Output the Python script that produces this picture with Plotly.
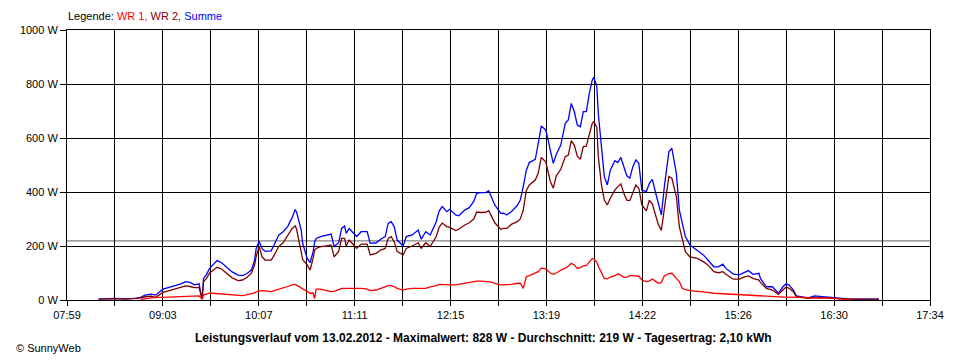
import plotly.graph_objects as go

# ---- data ----
times = [
    "08:20","08:25","08:31","08:38","08:45","08:48","08:51","08:55","08:58","09:03",
    "09:06","09:10","09:12","09:15","09:18","09:21","09:24","09:27","09:28","09:29",
    "09:30","09:32","09:34","09:36","09:39","09:42","09:45","09:49","09:53","09:56",
    "09:59","10:02","10:04","10:05","10:07","10:09","10:11","10:15","10:17","10:20",
    "10:23","10:26","10:29","10:31","10:32","10:35","10:36","10:39","10:41","10:43",
    "10:44","10:45","10:48","10:52","10:55","10:57","11:00","11:02","11:04","11:05",
    "11:07","11:09","11:12","11:15","11:19","11:21","11:25","11:28","11:31","11:33",
    "11:35","11:37","11:39","11:43","11:45","11:49","11:53","11:55","11:58","12:01",
    "12:05","12:07","12:09","12:12","12:14","12:18","12:20","12:24","12:27","12:30",
    "12:32","12:35","12:38","12:40","12:42","12:44","12:48","12:50","12:52","12:55",
    "12:59","13:01","13:03","13:05","13:07","13:11","13:13","13:15","13:18","13:21",
    "13:23","13:25","13:28","13:31","13:33","13:35","13:37","13:39","13:41","13:43",
    "13:45","13:47","13:49","13:50","13:52","13:53","13:55","13:57","13:59","14:01",
    "14:04","14:06","14:08","14:10","14:12","14:14","14:16","14:18","14:20","14:22",
    "14:25","14:27","14:29","14:31","14:33","14:35","14:37","14:40","14:42","14:45",
    "14:47","14:49","14:51","14:54","14:59","15:03","15:06","15:10","15:13","15:16",
    "15:18","15:23","15:27","15:30","15:33","15:36","15:40","15:41","15:45","15:49",
    "15:53","15:56","15:58","16:00","16:03","16:05","16:09","16:13","16:17","16:23",
    "16:30","16:34","16:41","16:48","16:54","17:00",
]

summe = [
    3, 4, 6, 4, 6, 10, 18, 22, 18, 40,
    45, 52, 56, 60, 68, 65, 56, 60, 30, 5,
    80, 95, 117, 128, 146, 138, 123, 104, 92, 90,
    98, 112, 148, 190, 218, 190, 180, 182, 204, 240,
    253, 272, 305, 335, 325, 260, 210, 154, 138, 179,
    215, 228, 235, 241, 244, 198, 212, 265, 274, 247,
    265, 253, 235, 253, 253, 210, 212, 225, 235, 284,
    290, 272, 222, 200, 235, 241, 259, 225, 253, 241,
    290, 330, 346, 327, 336, 315, 312, 333, 342, 365,
    395, 398, 398, 405, 380, 352, 321, 322, 315, 327,
    350, 370, 420, 480, 509, 521, 580, 644, 630, 560,
    506, 540, 574, 654, 667, 728, 698, 648, 642, 698,
    698, 765, 815, 825, 790, 690, 586, 457, 426, 481,
    516, 509, 528, 490, 460, 451, 494, 519, 506, 407,
    401, 432, 447, 401, 352, 315, 420, 549, 562, 469,
    333, 278, 235, 204, 185, 167, 148, 123, 123, 133,
    117, 96, 93, 101, 109, 95, 99, 80, 49, 49,
    25, 49, 59, 56, 37, 15, 12, 8, 15, 12,
    9, 5, 3, 3, 3, 3,
]

wr2 = [
    3, 4, 5, 3, 5, 8, 12, 14, 10, 28,
    33, 40, 43, 46, 52, 50, 46, 46, 25, 4,
    68, 80, 100, 108, 121, 115, 102, 82, 72, 74,
    84, 100, 130, 160, 198, 160, 148, 148, 165, 198,
    212, 240, 265, 275, 262, 179, 150, 130, 111, 155,
    185, 191, 198, 200, 204, 160, 180, 228, 228, 200,
    222, 210, 191, 207, 207, 167, 173, 185, 191, 228,
    235, 216, 179, 167, 191, 200, 212, 191, 212, 198,
    235, 270, 285, 272, 269, 257, 262, 278, 286, 300,
    326, 324, 325, 331, 305, 286, 262, 265, 265, 280,
    290, 300, 333, 405, 426, 444, 470, 528, 512, 440,
    414, 460, 484, 531, 537, 590, 574, 533, 521, 568,
    570, 611, 655, 660, 640, 531, 430, 370, 352, 377,
    407, 420, 430, 395, 370, 368, 401, 426, 414, 352,
    330, 370, 355, 320, 280, 258, 340, 457, 451, 383,
    272, 222, 179, 160, 154, 142, 130, 105, 101, 105,
    95, 77, 77, 85, 89, 80, 74, 65, 43, 37,
    21, 37, 47, 44, 30, 12, 8, 6, 10, 8,
    5, 4, 3, 3, 3, 3,
]

wr1 = [
    None, None, None, None, None, 2, 5, 8, 9, 10,
    10, 11, 12, 14, 15, 15, 15, 15, 10, 2,
    18, 22, 25, 25, 24, 23, 22, 20, 19, 16,
    20, 22, 26, 30, 34, 35, 33, 31, 35, 40,
    43, 50, 56, 58, 55, 46, 40, 32, 25, 26,
    5, 40, 40, 35, 31, 32, 38, 43, 43, 43,
    43, 43, 43, 43, 40, 35, 37, 43, 48, 53,
    53, 50, 43, 37, 40, 43, 43, 43, 43, 49,
    53, 58, 57, 56, 56, 56, 58, 62, 64, 66,
    70, 70, 68, 68, 66, 62, 56, 56, 56, 58,
    62, 62, 43, 86, 90, 99, 105, 118, 115, 100,
    95, 100, 111, 118, 125, 136, 130, 117, 120, 126,
    128, 140, 154, 152, 140, 125, 100, 80, 78, 85,
    90, 96, 92, 84, 85, 90, 90, 90, 88, 74,
    68, 70, 78, 70, 62, 65, 90, 98, 99, 80,
    68, 43, 38, 35, 33, 31, 28, 25, 24, 22,
    22, 21, 20, 20, 18, 17, 16, 15, 14, 12,
    12, 11, 11, 11, 10, 10, 10, 8, 8, 7,
    6, 3, 2, None, None, None,
]

average_w = 219
x_start, x_end = "07:59", "17:34"
x_tick_labels = ["07:59", "09:03", "10:07", "11:11", "12:15",
                 "13:19", "14:22", "15:26", "16:30", "17:34"]
y_tick_values = [0, 200, 400, 600, 800, 1000]
y_tick_labels = ["0 W", "200 W", "400 W", "600 W", "800 W", "1000 W"]


def to_min(t):
    h, m = t.split(":")
    return int(h) * 60 + int(m)


xs = [to_min(t) for t in times]
x0, x1 = to_min(x_start), to_min(x_end)
n_grid = 2 * (len(x_tick_labels) - 1)
x_tickvals = [x0 + k * (x1 - x0) / n_grid for k in range(n_grid + 1)]
x_ticktext = [x_tick_labels[k // 2] if k % 2 == 0 else "" for k in range(n_grid + 1)]

fig = go.Figure()
fig.add_trace(go.Scatter(x=xs, y=summe, mode="lines", name="Summe",
                         line=dict(color="#0000FF", width=1.3)))
fig.add_trace(go.Scatter(x=xs, y=wr2, mode="lines", name="WR 2",
                         line=dict(color="#800000", width=1.3)))
fig.add_trace(go.Scatter(x=xs, y=wr1, mode="lines", name="WR 1",
                         line=dict(color="#FF0000", width=1.3)))

fig.add_shape(type="line", xref="paper", x0=0, x1=1, yref="y",
              y0=average_w, y1=average_w, line=dict(color="#808080", width=1.2),
              layer="below")

axis_common = dict(showgrid=True, gridcolor="black", gridwidth=1,
                   ticks="outside", tickcolor="black", tickwidth=1,
                   showline=True, linecolor="black", linewidth=1, mirror=True,
                   zeroline=False, fixedrange=True)

fig.update_xaxes(range=[x0, x1], tickmode="array", tickvals=x_tickvals,
                 ticktext=x_ticktext, ticklen=5, **axis_common)
fig.update_yaxes(range=[0, 1000], tickmode="array", tickvals=y_tick_values,
                 ticktext=y_tick_labels, ticklen=6, **axis_common)

# The page body adds an 8 px margin, so the figure is 8 px smaller and the
# plot margins are shifted to land the plot area where the reference has it.
fig.update_layout(
    width=952, height=352,
    margin=dict(l=53, r=30, t=22, b=60),
    plot_bgcolor="white", paper_bgcolor="white",
    font=dict(family="Liberation Sans, Arial, sans-serif", size=11, color="black"),
    showlegend=False,
)

fig.add_annotation(
    xref="paper", yref="paper", x=-0.001, y=1.052, xanchor="left", yanchor="middle",
    showarrow=False, font=dict(size=11),
    text=("Legende: <span style='color:#FF0000'>WR 1,</span> "
          "<span style='color:#800000'>WR 2,</span> "
          "<span style='color:#0000FF'>Summe</span>"))
fig.add_annotation(
    xref="paper", yref="paper", x=(480 - 61) / 869, y=-0.1407,
    xanchor="center", yanchor="middle", showarrow=False, font=dict(size=12),
    text=("<b>Leistungsverlauf vom 13.02.2012 - Maximalwert: 828 W - "
          "Durchschnitt: 219 W - Tagesertrag: 2,10 kWh</b>"))
fig.add_annotation(
    xref="paper", yref="paper", x=-0.061, y=-0.178,
    xanchor="left", yanchor="middle", showarrow=False, font=dict(size=11),
    text="© SunnyWeb")

fig.write_html("out.html")
